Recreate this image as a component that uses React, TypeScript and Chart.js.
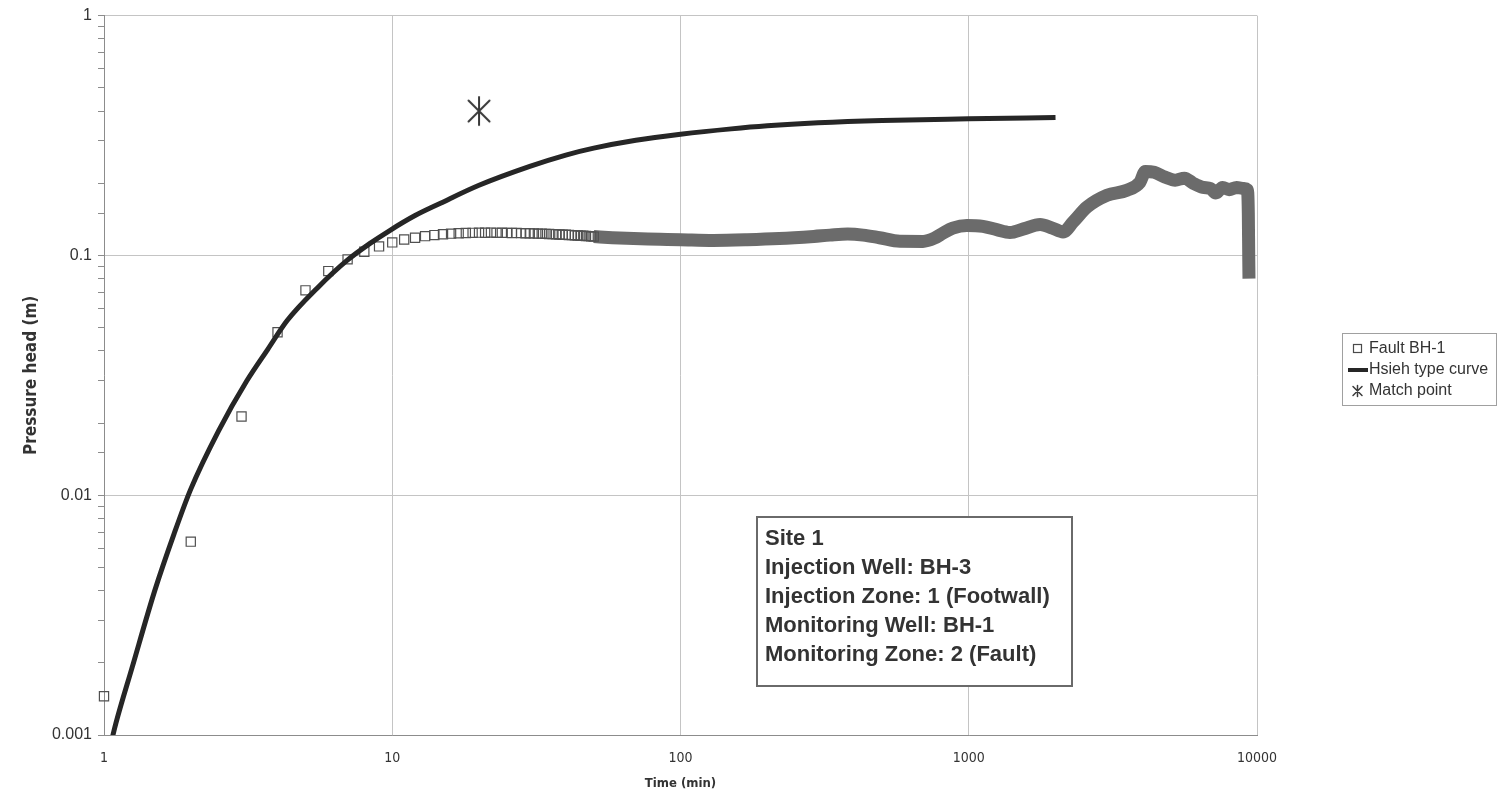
import React, { useEffect, useRef } from "react";
import { Chart, registerables } from "chart.js";

Chart.register(...registerables);

// ---------- data ----------
const faultEarlyTime = [1, 2, 3, 4, 5, 6, 7, 8, 9, 10, 11, 12, 13, 14, 15, 16, 17, 18, 19, 20, 21, 22, 23, 24, 25, 26, 27, 28, 29, 30, 31, 32, 33, 34, 35, 36, 37, 38, 39, 40, 41, 42, 43, 44, 45, 46, 47, 48, 49, 50];
const faultEarlyHead = [0.00145, 0.0064, 0.0213, 0.0478, 0.0715, 0.086, 0.0963, 0.1035, 0.109, 0.1133, 0.1165, 0.1185, 0.1203, 0.1215, 0.1226, 0.1232, 0.1237, 0.124, 0.1242, 0.1244, 0.1243, 0.1245, 0.1242, 0.1243, 0.1241, 0.124, 0.1241, 0.1238, 0.1237, 0.1236, 0.1235, 0.1232, 0.1233, 0.123, 0.1228, 0.1227, 0.1224, 0.1223, 0.122, 0.1219, 0.1216, 0.1215, 0.1212, 0.1211, 0.1208, 0.1207, 0.1204, 0.1203, 0.12, 0.1198];

const faultLateTime = [50, 58, 65, 77, 90, 100, 130, 170, 220, 290, 330, 380, 430, 490, 577, 694, 760, 814, 880, 986, 1120, 1250, 1390, 1550, 1768, 1950, 2123, 2301, 2572, 3018, 3538, 3927, 4100, 4400, 4800, 5200, 5600, 6000, 6500, 6900, 7200, 7600, 8000, 8500, 9000, 9250, 9330, 9360, 9380];
const faultLateHead = [0.1198, 0.1185, 0.1178, 0.117, 0.1166, 0.1163, 0.1155, 0.1162, 0.1175, 0.12, 0.1215, 0.1227, 0.1215, 0.1185, 0.1145, 0.1144, 0.118, 0.1239, 0.13, 0.1334, 0.1322, 0.128, 0.1246, 0.129, 0.1347, 0.13, 0.1253, 0.1377, 0.159, 0.178, 0.187, 0.202, 0.224, 0.222, 0.212, 0.206, 0.21, 0.2, 0.192, 0.19, 0.182, 0.192, 0.188, 0.192, 0.19, 0.188, 0.15, 0.1, 0.08];

const curveTime = [1.04, 1.1, 1.25, 1.5, 1.75, 2, 2.5, 3.13, 3.7, 4.32, 5.5, 6.97, 8.3, 9.8, 12, 14.7, 20, 30, 40, 50, 70, 100, 150, 200, 300, 500, 1000, 2000];
const curveHead = [0.00085, 0.00112, 0.0019, 0.0040, 0.0069, 0.0106, 0.0186, 0.03, 0.0406, 0.0535, 0.0732, 0.0953, 0.1114, 0.127, 0.1466, 0.165, 0.196, 0.235, 0.262, 0.28, 0.302, 0.32, 0.337, 0.347, 0.357, 0.365, 0.371, 0.376];

const matchTime = [20];
const matchHead = [0.4];

const xTickValues = [1, 10, 100, 1000, 10000];
const xTickLabels = ["1", "10", "100", "1000", "10000"];
const yTickValues = [0.001, 0.01, 0.1, 1];
const yTickLabels = ["0.001", "0.01", "0.1", "1"];

const xTitle = "Time (min)";
const yTitle = "Pressure head (m)";
const legendLabels = ["Fault BH-1", "Hsieh type curve", "Match point"];
const noteLines = [
  "Site 1",
  "Injection Well: BH-3",
  "Injection Zone: 1 (Footwall)",
  "Monitoring Well: BH-1",
  "Monitoring Zone: 2 (Fault)",
];

// ---------- helpers ----------
const NARROW = "'Liberation Sans Narrow', 'DejaVu Sans Condensed', 'Liberation Sans', Arial, sans-serif";
const SANS = "'Liberation Sans', Arial, sans-serif";

function labelFor(v: number, vals: number[], labels: string[]) {
  for (let i = 0; i < vals.length; i++) {
    if (Math.abs(Math.log10(v) - Math.log10(vals[i])) < 1e-6) return labels[i];
  }
  return "";
}
function isMajor(v: number | undefined) {
  if (v === undefined || v === null) return false;
  const l = Math.log10(v);
  return Math.abs(l - Math.round(l)) < 1e-6;
}

function drawAsterisk(ctx: CanvasRenderingContext2D, cx: number, cy: number, rv: number, rd: number, lw: number, color: string) {
  ctx.save();
  ctx.strokeStyle = color;
  ctx.lineWidth = lw;
  ctx.lineCap = "round";
  ctx.beginPath();
  ctx.moveTo(cx, cy - rv);
  ctx.lineTo(cx, cy + rv);
  ctx.moveTo(cx - rd, cy - rd);
  ctx.lineTo(cx + rd, cy + rd);
  ctx.moveTo(cx - rd, cy + rd);
  ctx.lineTo(cx + rd, cy - rd);
  ctx.stroke();
  ctx.restore();
}

function makeAsteriskImage() {
  const c = document.createElement("canvas");
  c.width = 30;
  c.height = 32;
  const ctx = c.getContext("2d")!;
  drawAsterisk(ctx, 15, 16, 14, 10.5, 2, "#383838");
  return c;
}

const notePlugin = {
  id: "noteBox",
  afterDraw(chart: any) {
    const ctx = chart.ctx as CanvasRenderingContext2D;
    ctx.save();
    const x = 757, y = 517, w = 315, h = 169;
    ctx.fillStyle = "#ffffff";
    ctx.fillRect(x, y, w, h);
    ctx.strokeStyle = "#6a6a6a";
    ctx.lineWidth = 2;
    ctx.strokeRect(x, y, w, h);
    ctx.fillStyle = "#333333";
    ctx.font = "bold 22px " + SANS;
    ctx.textBaseline = "middle";
    ctx.textAlign = "left";
    noteLines.forEach((t, i) => ctx.fillText(t, 765, 539 + i * 29));
    ctx.restore();
  },
};

const legendPlugin = {
  id: "sideLegend",
  afterDraw(chart: any) {
    const ctx = chart.ctx as CanvasRenderingContext2D;
    ctx.save();
    ctx.strokeStyle = "#a0a0a0";
    ctx.lineWidth = 1;
    ctx.strokeRect(1342.5, 333.5, 154, 72);
    ctx.fillStyle = "#333333";
    ctx.font = "16px " + SANS;
    ctx.textBaseline = "middle";
    ctx.textAlign = "left";
    const rows = [349, 370, 391];
    // square
    ctx.strokeStyle = "#4a4a4a";
    ctx.lineWidth = 1.2;
    ctx.strokeRect(1353.5, rows[0] - 4.5, 8, 8);
    // line
    ctx.strokeStyle = "#262626";
    ctx.lineWidth = 4;
    ctx.beginPath();
    ctx.moveTo(1348, rows[1]);
    ctx.lineTo(1368, rows[1]);
    ctx.stroke();
    // asterisk
    drawAsterisk(ctx, 1357.5, rows[2], 5.5, 4.5, 1.5, "#3c3c3c");
    legendLabels.forEach((t, i) => ctx.fillText(t, 1369, rows[i]));
    ctx.restore();
  },
};

export default function App() {
  const ref = useRef<HTMLCanvasElement>(null);
  useEffect(() => {
    const canvas = ref.current!;
    const star = makeAsteriskImage();
    const chart = new Chart(canvas, {
      type: "scatter",
      data: {
        datasets: [
          {
            label: legendLabels[2],
            data: matchTime.map((t, i) => ({ x: t, y: matchHead[i] })),
            pointStyle: star as any,
            pointRadius: 14,
            showLine: false,
            order: 0,
          },
          {
            label: legendLabels[1],
            data: curveTime.map((t, i) => ({ x: t, y: curveHead[i] })),
            showLine: true,
            borderColor: "#262626",
            borderWidth: 5,
            pointRadius: 0,
            cubicInterpolationMode: "monotone",
            order: 1,
          },
          {
            label: legendLabels[0],
            data: faultEarlyTime.map((t, i) => ({ x: t, y: faultEarlyHead[i] })),
            showLine: false,
            pointStyle: "rect",
            pointRadius: 6.5,
            borderColor: "#505050",
            borderWidth: 1.2,
            backgroundColor: "rgba(255,255,255,0)",
            clip: false,
            order: 2,
          },
          {
            label: legendLabels[0] + " ",
            data: faultLateTime.map((t, i) => ({ x: t, y: faultLateHead[i] })),
            showLine: true,
            borderColor: "#6b6b6b",
            borderWidth: 13,
            borderJoinStyle: "round",
            pointRadius: 0,
            cubicInterpolationMode: "monotone",
            order: 3,
          },
        ] as any,
      },
      options: {
        animation: false,
        responsive: true,
        maintainAspectRatio: false,
        layout: { padding: { left: 0, top: 15, right: 244, bottom: 0 } },
        plugins: { legend: { display: false }, tooltip: { enabled: false } },
        scales: {
          x: {
            type: "logarithmic",
            position: "bottom",
            min: 1,
            max: 10000,
            grid: {
              color: (c: any) => (isMajor(c.tick?.value) ? "#c4c4c4" : "rgba(0,0,0,0)"),
              drawTicks: false,
            },
            border: { color: "#8c8c8c" },
            ticks: {
              autoSkip: false,
              maxRotation: 0,
              padding: 15,
              color: "#333",
              font: { family: NARROW, size: 14 },
              callback: (v: any) => labelFor(Number(v), xTickValues, xTickLabels),
            },
            title: {
              display: true,
              text: xTitle,
              color: "#333",
              font: { family: NARROW, size: 13, weight: "bold" },
              padding: { top: 0, bottom: 15 },
            },
            afterFit: (s: any) => {
              s.height = 71;
            },
          },
          y: {
            type: "logarithmic",
            position: "left",
            min: 0.001,
            max: 1,
            grid: {
              color: (c: any) => (isMajor(c.tick?.value) ? "#c4c4c4" : "rgba(0,0,0,0)"),
              tickColor: "#8c8c8c",
              tickLength: 6,
              drawTicks: true,
            },
            border: { color: "#8c8c8c" },
            ticks: {
              autoSkip: false,
              padding: 6,
              color: "#333",
              font: { family: SANS, size: 16 },
              callback: (v: any) => labelFor(Number(v), yTickValues, yTickLabels),
            },
            title: {
              display: true,
              text: yTitle,
              color: "#333",
              font: { family: NARROW, size: 17, weight: "bold" },
              padding: { top: 21, bottom: 0 },
            },
            afterFit: (s: any) => {
              s.width = 104;
            },
          },
        },
      } as any,
      plugins: [notePlugin, legendPlugin],
    });
    return () => chart.destroy();
  }, []);
  return (
    <div style={{ position: "fixed", left: 0, top: 0, width: 1501, height: 806, background: "#fff" }}>
      <canvas ref={ref} />
    </div>
  );
}
